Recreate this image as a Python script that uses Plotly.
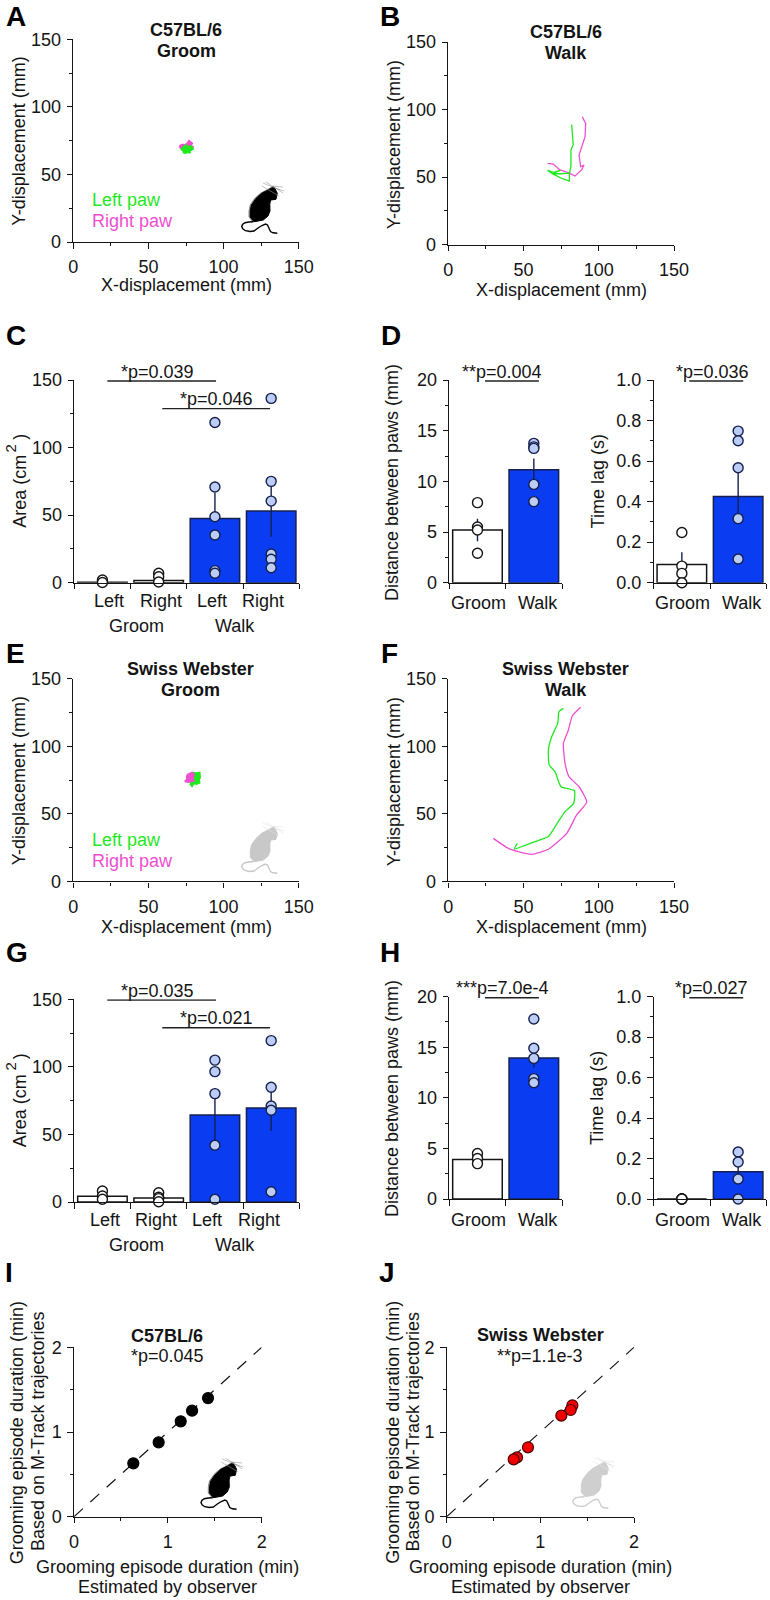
import plotly.graph_objects as go

W, H = 770, 1600
FONT = "Liberation Sans"
INK = "#141414"
GREEN = "#1fe81f"
PINK = "#ee4fcf"
BLUE = "#0a3cf2"
PALE = "#bccdf5"
NAVY = "#16204e"
FS = 18

# ---- trajectories (mm) ----
a_left_x = [71.7, 74, 73, 75, 74, 76, 78, 77, 79.9, 78, 79, 76, 75, 73, 71.7]
a_left_y = [68.5, 67, 66, 67, 65.6, 66.5, 66, 67, 69, 70, 71, 70, 71.8, 70, 68.5]
a_right_x = [70.6, 73, 74, 76, 77, 79, 78, 79.4, 77, 74, 72, 70.6]
a_right_y = [71, 72, 71.5, 73, 74.7, 73, 71.5, 70.5, 69, 68.5, 69, 71]
b_left_x = [82, 82.5, 83, 81.5, 81.5, 80.5, 80.5, 75.5, 70, 66, 70, 74.5, 69, 74.5, 80.5, 80.5]
b_left_y = [89, 82, 74, 70, 58, 53, 47, 49, 52, 55, 53.5, 55, 52.5, 52.5, 53, 47]
b_right_x = [89, 91.3, 90.9, 88.6, 86.9, 88, 90.2, 88.6, 84.2, 79.8, 74.2, 69.8, 66]
b_right_y = [94.7, 89.8, 79.9, 72.5, 66.4, 57.7, 59, 55.3, 50.8, 53.3, 55.3, 59.7, 60.2]
e_left_x = [78.5, 80, 79, 82, 84, 84.3, 83.5, 84, 82, 80, 79, 78, 79, 78.5]
e_left_y = [78, 80, 80.4, 80, 80.4, 77, 75, 73, 72, 72.5, 70.6, 72, 75, 78]
e_right_x = [76, 78, 79, 80.3, 79.5, 80, 78, 76.5, 74.3, 76, 75.5, 76]
e_right_y = [79, 80, 80.4, 79, 77, 74.5, 74, 73.5, 74, 75.5, 77, 79]
f_left_x = [76.5, 73.6, 72.7, 68.7, 66.5, 67.1, 70.9, 74.9, 83.8, 83.3, 77.6, 73.1, 66.5, 57.6, 43.9, 45.9]
f_left_y = [128, 125.6, 116.9, 107, 97.2, 86.1, 81.2, 70, 67.1, 57.7, 51.6, 44.2, 33.1, 29.4, 23.9, 28.1]
f_right_x = [88, 82.4, 79.8, 76.5, 77.6, 80.2, 86.9, 92, 85.3, 78.7, 66.5, 55.4, 46.5, 39.9, 29.9]
f_right_y = [128.8, 122.4, 112, 102.1, 87.3, 77.5, 70, 58.7, 49.1, 35.5, 23.7, 20, 22, 24.4, 31.8]

# ---- bars ----
area_labels = ["Left", "Right", "Left", "Right"]
pair_labels = ["Groom", "Walk"]
c_means = [0.3, 1.7, 47.6, 53]
c_err_up = [0, 0, 19, 19]
c_err_dn = [0, 0, 0, 19]
c_points = [[2, 0.2, -0.5], [7, 4.4, 0.5], [118.6, 70.8, 48.8, 35.3, 8.9, 7], [136.4, 75, 60.4, 21.2, 17.3, 11.1]]
d1_means = [5.2, 11.15]
d1_err = [1.1, 1.1]
d1_points = [[7.9, 5.5, 5.2, 2.9], [13.75, 13.4, 13.25, 9.7, 8]]
d2_means = [0.09, 0.425]
d2_err = [0.06, 0.13]
d2_points = [[0.248, 0.082, 0.046, 0], [0.748, 0.70, 0.567, 0.316, 0.117]]
g_means = [4.2, 3, 64.4, 69.6]
g_err_up = [0, 0, 20, 17]
g_err_dn = [0, 0, 20, 17]
g_points = [[8.1, 4.4, 2], [6.9, 3.5, 2.5, 0.2], [105, 96.5, 80.2, 42, 2], [119.4, 84.9, 71, 67.9, 7.6]]
h1_means = [3.9, 13.95]
h1_err = [0.3, 0.95]
h1_points = [[4.5, 4, 3.5], [17.8, 14.9, 13.9, 11.9, 11.5]]
h2_means = [0, 0.135]
h2_err = [0, 0.05]
h2_points = [[0, 0, 0, 0], [0.232, 0.183, 0.099, 0]]

# ---- scatter ----
i_x = [0.632, 0.902, 1.137, 1.258, 1.428]
i_y = [0.63, 0.878, 1.126, 1.252, 1.40]
j_x = [1.342, 1.324, 1.224, 0.868, 0.751, 0.715]
j_y = [1.315, 1.26, 1.193, 0.819, 0.70, 0.677]
identity = [0, 2]

# ---- mouse illustration, in reference pixels ----
mouse_body_x = [274, 277.3, 276, 270.7, 269.8, 270, 268, 263.3, 254, 250.3, 250.3, 251.5, 256, 261.7, 266.7, 274]
mouse_body_y = [186.7, 193.3, 199.3, 200, 204, 211, 216, 220, 221.7, 217, 211, 205, 198.5, 193.3, 190.7, 186.7]
mouse_tail_x = [253.3, 249, 245, 242.5, 241.7, 243, 245.5, 250, 254, 258, 262, 265.5, 267.5, 269, 270.5, 273, 277.3]
mouse_tail_y = [221.7, 222, 222.7, 224.5, 226.7, 229, 230.7, 231.5, 231, 228, 225.5, 224, 225, 228.3, 231.5, 232.8, 233.3]
mouse_whisk = [[(263, 183), (280, 190)], [(266, 182), (283, 193)], [(262, 186), (279, 196)],
               [(272, 186), (283, 187)], [(275, 188), (284, 191)]]

panels = {
    "A": (73.3, 298.7, 39.3, 242),
    "B": (448.3, 674, 42, 244.7),
    "C": (74.3, 299.3, 380, 582.7),
    "D1": (449.3, 562, 380, 582.7),
    "D2": (653.7, 766.3, 380, 582.7),
    "E": (73.3, 298.7, 678.7, 881.3),
    "F": (448.3, 674, 678.7, 881.3),
    "G": (74.3, 299.3, 999.3, 1202),
    "H1": (449.3, 562, 996.7, 1199),
    "H2": (653.7, 766.3, 996.7, 1199),
    "I": (74, 261.7, 1347.3, 1516.7),
    "J": (446.7, 634, 1347.3, 1516.7),
}
axis_index = {k: i + 1 for i, k in enumerate(panels)}


def px(x):
    return x / W


def py(y):
    return 1 - y / H


fig = go.Figure()
layout = {}
annotations = []
shapes = []


def refs(name):
    i = axis_index[name]
    return ("x" if i == 1 else f"x{i}"), ("y" if i == 1 else f"y{i}")


def style_axes(name, xr, yr, xd, yd, xminor, yminor, xlabels=True, yfmt=None):
    i = axis_index[name]
    xk = "xaxis" if i == 1 else f"xaxis{i}"
    yk = "yaxis" if i == 1 else f"yaxis{i}"
    xa, ya = refs(name)
    x0, x1, yt, yb = panels[name]
    common = dict(showline=True, linecolor=INK, linewidth=1.4, ticks="outside", ticklen=5.5,
                  tickwidth=1.3, tickcolor=INK, showgrid=False, zeroline=False, fixedrange=True,
                  automargin=False, tickfont=dict(family=FONT, size=FS, color=INK))
    xcfg = dict(common, domain=[px(x0), px(x1)], range=xr, anchor=ya, dtick=xd, tick0=0,
                showticklabels=xlabels)
    ycfg = dict(common, domain=[py(yb), py(yt)], range=yr, anchor=xa, dtick=yd, tick0=0)
    if xlabels:
        xcfg["ticklabelstandoff"] = 3
    ycfg["ticklabelstandoff"] = 2
    if xminor:
        xcfg["minor"] = dict(ticks="outside", ticklen=3, tickwidth=1.1, tickcolor=INK, dtick=xminor, tick0=0, showgrid=False)
    if yminor:
        ycfg["minor"] = dict(ticks="outside", ticklen=3, tickwidth=1.1, tickcolor=INK, dtick=yminor, tick0=0, showgrid=False)
    if yfmt:
        ycfg["tickformat"] = yfmt
    layout[xk] = xcfg
    layout[yk] = ycfg


def text(x, y, s, size=FS, bold=False, color=INK, anchor="center", angle=0):
    if bold:
        s = f"<b>{s}</b>"
    annotations.append(dict(x=px(x), y=py(y), xref="paper", yref="paper", text=s, showarrow=False,
                            xanchor=anchor, yanchor="middle", textangle=angle,
                            font=dict(family=FONT, size=size, color=color)))


def trajectory(name, lx, ly, rx, ry, right_first=False, fill=False, smooth=False):
    xa, ya = refs(name)
    series = [(rx, ry, PINK), (lx, ly, GREEN)]
    if right_first:
        series = series[::-1]
    for sx, sy, col in series:
        line = dict(color=col, width=2 if fill else 1.3)
        if smooth:
            line.update(shape="spline", smoothing=0.5)
        fig.add_trace(go.Scatter(x=sx, y=sy, mode="lines", xaxis=xa, yaxis=ya, showlegend=False,
                                 line=line, fill="toself" if fill else None, fillcolor=col))


def bars(name, means, up, dn, points, colors):
    xa, ya = refs(name)
    xs = [k + 0.5 for k in range(len(means))]
    edges = [INK if c == "white" else NAVY for c in colors]
    fig.add_trace(go.Bar(x=xs, y=means, width=0.88, xaxis=xa, yaxis=ya, showlegend=False,
                         marker=dict(color=colors, line=dict(color=edges, width=1.5)),
                         error_y=dict(type="data", symmetric=False, array=up, arrayminus=dn,
                                      color=NAVY, thickness=1.4, width=0)))
    for cx, vals, col in zip(xs, points, colors):
        fill, edge = ("white", INK) if col == "white" else (PALE, NAVY)
        fig.add_trace(go.Scatter(x=[cx] * len(vals), y=vals, mode="markers", xaxis=xa, yaxis=ya,
                                 showlegend=False, cliponaxis=False,
                                 marker=dict(size=10, color=fill, line=dict(color=edge, width=1.4))))


def sig_line(name, x0, x1, y):
    xa, ya = refs(name)
    shapes.append(dict(type="line", xref=xa, yref=ya, x0=x0, x1=x1, y0=y, y1=y,
                       line=dict(color="#222", width=1.4)))


def scatter_panel(name, xs, ys, col, edge):
    xa, ya = refs(name)
    fig.add_trace(go.Scatter(x=identity, y=identity, mode="lines", xaxis=xa, yaxis=ya, showlegend=False,
                             line=dict(color=INK, width=1.2, dash="12px,10px")))
    fig.add_trace(go.Scatter(x=xs, y=ys, mode="markers", xaxis=xa, yaxis=ya, showlegend=False,
                             cliponaxis=False, marker=dict(size=11, color=col, line=dict(color=edge, width=1.2))))


def mouse(dx, dy, body, edge, whisker):
    def path(xs, ys, off=0.0, close=False):
        seg = [f"{px(x + dx + off):.5f},{py(y + dy):.5f}" for x, y in zip(xs, ys)]
        return "M" + " L".join(seg) + (" Z" if close else "")

    if edge != body:
        shapes.append(dict(type="path", xref="paper", yref="paper", path=path(mouse_body_x, mouse_body_y, -1.3, True),
                           fillcolor=edge, line=dict(color=edge, width=1)))
    shapes.append(dict(type="path", xref="paper", yref="paper", path=path(mouse_body_x, mouse_body_y, 0, True),
                       fillcolor=body, line=dict(color=body, width=1)))
    shapes.append(dict(type="path", xref="paper", yref="paper", path=path(mouse_tail_x, mouse_tail_y),
                       line=dict(color=body, width=1.4)))
    for seg in mouse_whisk:
        xs = [p[0] for p in seg]
        ys = [p[1] for p in seg]
        shapes.append(dict(type="path", xref="paper", yref="paper", path=path(xs, ys),
                           line=dict(color=whisker, width=0.6)))


# ---- axes ----
for nm in ["A", "B", "E", "F"]:
    style_axes(nm, [0, 150], [0, 150], 50, 50, 25, 25)
for nm in ["C", "G"]:
    style_axes(nm, [0, 4], [0, 150], 1, 50, None, 25, xlabels=False)
for nm in ["D1", "H1"]:
    style_axes(nm, [0, 2], [0, 20], 1, 5, None, 2.5, xlabels=False)
for nm in ["D2", "H2"]:
    style_axes(nm, [0, 2], [0, 1], 1, 0.2, None, 0.1, xlabels=False, yfmt=".1f")
for nm in ["I", "J"]:
    style_axes(nm, [0, 2], [0, 2], 1, 1, 0.5, 0.5)

# ---- traces ----
trajectory("A", a_left_x, a_left_y, a_right_x, a_right_y, fill=True)
trajectory("B", b_left_x, b_left_y, b_right_x, b_right_y)
trajectory("E", e_left_x, e_left_y, e_right_x, e_right_y, right_first=True, fill=True)
trajectory("F", f_left_x, f_left_y, f_right_x, f_right_y, smooth=True)

four = ["white", "white", BLUE, BLUE]
two = ["white", BLUE]
bars("C", c_means, c_err_up, c_err_dn, c_points, four)
bars("D1", d1_means, d1_err, d1_err, d1_points, two)
bars("D2", d2_means, d2_err, d2_err, d2_points, two)
bars("G", g_means, g_err_up, g_err_dn, g_points, four)
bars("H1", h1_means, h1_err, h1_err, h1_points, two)
bars("H2", h2_means, h2_err, h2_err, h2_points, two)

scatter_panel("I", i_x, i_y, "#000000", "#000000")
scatter_panel("J", j_x, j_y, "#f00000", "#4a0505")

# ---- significance lines ----
sig_line("C", 0.587, 2.52, 149.3)
sig_line("C", 1.564, 3.48, 128.8)
sig_line("G", 0.587, 2.52, 149.5)
sig_line("G", 1.564, 3.48, 129)
for nm, top in [("D1", 19.9), ("H1", 19.9), ("D2", 0.995), ("H2", 0.995)]:
    sig_line(nm, 0.633, 1.59, top)

# ---- panel letters ----
for s, x, y in [("A", 4, 16.3), ("B", 378, 16.3), ("C", 4, 335.5), ("D", 379, 335.5), ("E", 4, 653.5), ("F", 379, 653.5),
                ("G", 4, 953), ("H", 378, 953), ("I", 3, 1272.5), ("J", 377, 1272.5)]:
    text(x, y, s, size=28, bold=True, color="#000", anchor="left")

# ---- titles ----
text(186, 29.8, "C57BL/6", bold=True)
text(186, 50.5, "Groom", bold=True)
text(566, 32.2, "C57BL/6", bold=True)
text(566, 52.8, "Walk", bold=True)
text(190.5, 668.8, "Swiss Webster", bold=True)
text(190.5, 689.8, "Groom", bold=True)
text(565.7, 668.8, "Swiss Webster", bold=True)
text(565.7, 689.8, "Walk", bold=True)
text(167.3, 1335.5, "C57BL/6", bold=True)
text(167.3, 1355.7, "*p=0.045")
text(540.3, 1334.5, "Swiss Webster", bold=True)
text(540.3, 1355.7, "**p=1.1e-3")

# ---- displacement axis titles ----
XD, YD = "X-displacement (mm)", "Y-displacement (mm)"
text(186, 285, XD)
text(19, 141.7, YD, angle=-90)
text(561.7, 290, XD)
text(394, 144.3, YD, angle=-90)
text(186, 927.3, XD)
text(19, 781.3, YD, angle=-90)
text(561.7, 926.7, XD)
text(394, 781.3, YD, angle=-90)

# ---- paw legends ----
for yy in [(200, 220.7), (840, 860.7)]:
    text(90, yy[0], "Left paw", color=GREEN, anchor="left")
    text(90, yy[1], "Right paw", color=PINK, anchor="left")

# ---- bar panel labels ----
AREA = "Area (cm&nbsp;&nbsp;&nbsp;)"
DIST = "Distance between paws (mm)"
LAG = "Time lag (s)"
text(20, 480.7, AREA, angle=-90)
text(9.5, 449, "2", size=15, angle=-90)
text(20, 1100.3, AREA, angle=-90)
text(9.5, 1067, "2", size=15, angle=-90)
text(392, 482, DIST, angle=-90)
text(392, 1098, DIST, angle=-90)
text(597.7, 481.7, LAG, angle=-90)
text(597.7, 1098.3, LAG, angle=-90)

for s, x in zip(area_labels, [109.3, 161, 211.7, 263]):
    text(x, 601, s)
for s, x in zip(area_labels, [105, 156.3, 207.3, 258.7]):
    text(x, 1220, s)
for y1 in [625.7, 1245]:
    text(136.7, y1, "Groom")
    text(235.3, y1, "Walk")
for y in [603, 1220]:
    for s, x in zip(pair_labels, [478.7, 537.7]):
        text(x, y, s)
    for s, x in zip(pair_labels, [682.7, 741.7]):
        text(x, y, s)

text(157.7, 371.7, "*p=0.039")
text(216.7, 398.7, "*p=0.046")
text(157.7, 990.7, "*p=0.035")
text(216, 1017.7, "*p=0.021")
text(501.7, 371.7, "**p=0.004")
text(712.3, 371.7, "*p=0.036")
text(502, 988.3, "***p=7.0e-4")
text(711.7, 988.3, "*p=0.027")

# ---- scatter panel labels ----
GR = "Grooming episode duration (min)"
BA = "Based on M-Track trajectories"
EO = "Estimated by observer"
text(16.7, 1432.5, GR, angle=-90)
text(37.3, 1431.7, BA, angle=-90)
text(392.3, 1432.5, GR, angle=-90)
text(412.7, 1431.7, BA, angle=-90)
text(167.7, 1566.7, GR)
text(167.7, 1587.3, EO)
text(540.3, 1566.7, GR)
text(540.3, 1587.3, EO)

# ---- mice ----
mouse(0, 0, "#000000", "#8a8a8a", "#999999")
mouse(0, 640, "#c8c8c8", "#c8c8c8", "#e2e2e2")
mouse(-40.7, 1276, "#000000", "#8a8a8a", "#999999")
mouse(331, 1275, "#cfcfcf", "#cfcfcf", "#e2e2e2")

fig.update_layout(width=W, height=H, margin=dict(l=0, r=0, t=0, b=0), paper_bgcolor="white",
                  plot_bgcolor="white", showlegend=False, annotations=annotations, shapes=shapes,
                  font=dict(family=FONT, size=FS, color=INK), **layout)
PAGE_FIX = """
var st = document.createElement('style');
st.textContent = 'html,body{margin:0!important;padding:0!important;overflow:hidden}';
document.head.appendChild(st);
"""
fig.write_html("out.html", config={"displayModeBar": False}, post_script=PAGE_FIX)
